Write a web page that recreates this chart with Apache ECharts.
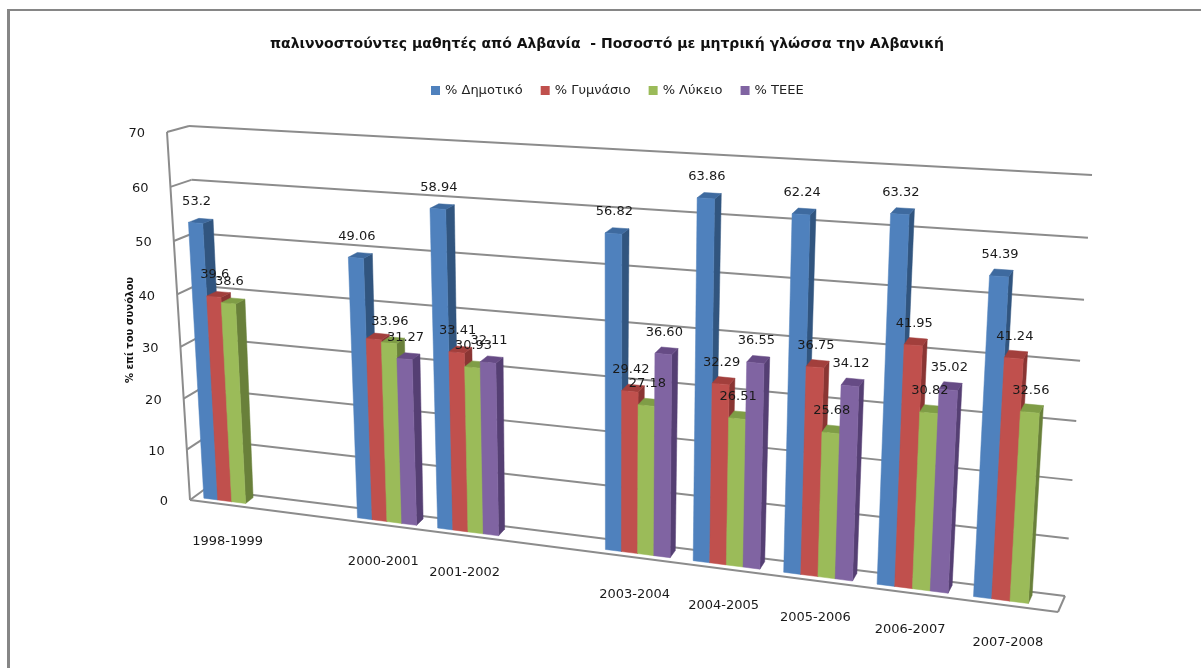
<!DOCTYPE html>
<html>
<head>
<meta charset="utf-8">
<script src="https://cdn.jsdelivr.net/npm/echarts@6/dist/echarts.min.js"></script>
<style>
  html, body { margin: 0; padding: 0; background: #fff; }
  #main { width: 1201px; height: 668px; }
</style>
</head>
<body>
<div id="main"></div>
<script>
// school years, two of them have no data and stay as empty slots
const categories = ['1998-1999', '', '2000-2001', '2001-2002', '', '2003-2004', '2004-2005', '2005-2006', '2006-2007', '2007-2008'];
const yTicks = [0, 10, 20, 30, 40, 50, 60, 70];

const dimotiko = [53.2, null, 49.06, 58.94, null, 56.82, 63.86, 62.24, 63.32, 54.39];
const gymnasio = [39.6, null, 34.4, 33.41, null, 29.42, 32.29, 36.75, 41.95, 41.24];
const lykeio = [38.6, null, 33.96, 30.93, null, 27.18, 26.51, 25.68, 30.82, 32.56];
const teee = [null, null, 31.27, 32.11, null, 36.60, 36.55, 34.12, 35.02, null];
// the 2000-2001 Gymnasio label is not visible in the picture, its bar is estimated
const unlabelled = { gymnasio: [2] };

const seriesNames = ['% Δημοτικό', '% Γυμνάσιο', '% Λύκειο', '% ΤΕΕΕ'];
const seriesValues = [dimotiko, gymnasio, lykeio, teee];
const seriesKeys = ['dimotiko', 'gymnasio', 'lykeio', 'teee'];

// face colours: front, side, top
const faceColors = [
    ['#4f81bd', '#31557f', '#3e6a9f'],
    ['#c0504d', '#8a3533', '#a23f3c'],
    ['#9bbb59', '#69803a', '#7f9d46'],
    ['#8064a2', '#553f73', '#664b85']
];

const FONT = '"DejaVu Sans", sans-serif';
const GRID_COLOR = '#8c8c8c';
const FRAME_COLOR = '#868686';
const BAR_WIDTH = 0.185;    // of one category slot
const BAR_FRONT = 0.28;     // depth of the bars in the box, 0 front, 1 back
const BAR_BACK = 0.8;
const LABEL_RISE = 21;
const LABEL_SHIFT = 1;
const CATEGORY_DROP = 37;
const TICK_GAP = 22;
const TICK_DROP = 2;

// corners of the tilted box on the page, order: bottom-left, bottom-right, top-right, top-left
const frontPlane = [[190, 500], [1058, 612], [1084, 187], [167, 132]];
const backPlane = [[205, 489], [1065, 596], [1092, 175], [189, 126]];

// unit square -> quad
function makeHomography(q) {
    const [p0, p1, p2, p3] = q;
    const dx1 = p1[0] - p2[0], dx2 = p3[0] - p2[0], sx = p0[0] - p1[0] + p2[0] - p3[0];
    const dy1 = p1[1] - p2[1], dy2 = p3[1] - p2[1], sy = p0[1] - p1[1] + p2[1] - p3[1];
    const det = dx1 * dy2 - dx2 * dy1;
    const g = (sx * dy2 - dx2 * sy) / det;
    const h = (dx1 * sy - sx * dy1) / det;
    const a = p1[0] - p0[0] + g * p1[0], b = p3[0] - p0[0] + h * p3[0], c = p0[0];
    const d = p1[1] - p0[1] + g * p1[1], e = p3[1] - p0[1] + h * p3[1], f = p0[1];
    return (u, v) => {
        const w = g * u + h * v + 1;
        return [(a * u + b * v + c) / w, (d * u + e * v + f) / w];
    };
}

const front = makeHomography(frontPlane);
const back = makeHomography(backPlane);

function project(u, v, depth) {
    const a = front(u, v), b = back(u, v);
    return [a[0] + (b[0] - a[0]) * depth, a[1] + (b[1] - a[1]) * depth];
}

// pixel from the flat hidden grid -> position in the box
function toBox(pt, cs) {
    return [(pt[0] - cs.x) / cs.width, 1 - (pt[1] - cs.y) / cs.height];
}

function poly(points, fill) {
    return { type: 'polygon', shape: { points: points }, style: { fill: fill, stroke: fill, lineWidth: 0.5 } };
}

function line(a, b) {
    return {
        type: 'line',
        shape: { x1: a[0], y1: a[1], x2: b[0], y2: b[1] },
        style: { stroke: GRID_COLOR, lineWidth: 2 }
    };
}

function text(str, x, y, align) {
    return {
        type: 'text', z2: 100,
        style: { x: x, y: y, text: str, fill: '#1a1a1a', align: align, verticalAlign: 'middle', font: 'normal 13px ' + FONT }
    };
}

function renderBar(seriesIndex, params, api) {
    const slot = api.value(0), value = api.value(1);
    const cs = params.coordSys;
    const top = toBox(api.coord([slot, value]), cs);
    const slotWidth = api.size([1, 0])[0] / cs.width;
    const uL = top[0] + (seriesIndex - 2) * BAR_WIDTH * slotWidth;
    const uR = uL + BAR_WIDTH * slotWidth;
    const v = top[1];
    const c = faceColors[seriesIndex];

    const ftl = project(uL, v, BAR_FRONT), ftr = project(uR, v, BAR_FRONT);
    const fbl = project(uL, 0, BAR_FRONT), fbr = project(uR, 0, BAR_FRONT);
    const btl = project(uL, v, BAR_BACK), btr = project(uR, v, BAR_BACK), bbr = project(uR, 0, BAR_BACK);

    const children = [
        poly([ftr, btr, bbr, fbr], c[1]),
        poly([ftl, ftr, btr, btl], c[2]),
        poly([ftl, ftr, fbr, fbl], c[0])
    ];
    const hidden = (unlabelled[seriesKeys[seriesIndex]] || []).indexOf(slot) >= 0;
    if (!hidden) {
        const label = slot === 0 ? String(value) : value.toFixed(2);
        children.push(text(label, (ftl[0] + ftr[0]) / 2 + LABEL_SHIFT, ftl[1] - LABEL_RISE, 'center'));
    }
    return { type: 'group', children: children };
}

// wall grid lines and tick labels, one item per y tick
function renderWall(params, api) {
    const value = api.value(1);
    const cs = params.coordSys;
    const v = toBox(api.coord([0, value]), cs)[1];
    const p0 = project(0, v, 0), p1 = project(0, v, 1), p2 = project(1, v, 1);
    const children = [line(p0, p1), line(p1, p2), text(String(value), p0[0] - TICK_GAP, p0[1] + TICK_DROP, 'right')];
    if (value === 0) {
        const fr = project(1, 0, 0);
        children.push(line(p0, fr), line(fr, p2), line(p0, project(0, 1, 0)));
    }
    return { type: 'group', children: children };
}

function renderCategory(params, api) {
    const slot = api.value(0);
    const cs = params.coordSys;
    const u = toBox(api.coord([slot, 0]), cs)[0];
    const p = project(u, 0, 0);
    return { type: 'group', children: [text(categories[slot], p[0], p[1] + CATEGORY_DROP, 'center')] };
}

const barSeries = seriesValues.map((values, idx) => ({
    name: seriesNames[idx],
    type: 'custom',
    itemStyle: { color: faceColors[idx][0] },
    renderItem: (params, api) => renderBar(idx, params, api),
    encode: { x: 0, y: 1 },
    data: values.map((val, i) => [i, val]).filter(d => d[1] !== null),
    z: 3
}));

const chart = echarts.init(document.getElementById('main'));

chart.setOption({
    backgroundColor: '#fff',
    animation: false,
    title: {
        text: 'παλιννοστούντες μαθητές από Αλβανία  - Ποσοστό με μητρική γλώσσα την Αλβανική',
        left: 265,
        top: 32,
        textStyle: { fontFamily: FONT, fontSize: 14, fontWeight: 'bold', color: '#111' }
    },
    legend: {
        data: seriesNames,
        left: 426,
        top: 79,
        icon: 'rect',
        itemWidth: 9,
        itemHeight: 9,
        itemGap: 18,
        textStyle: { fontFamily: FONT, fontSize: 13, color: '#222' }
    },
    graphic: [
        // chart frame: only left and top show, the rest runs off the page
        { type: 'rect', shape: { x: 7, y: 9, width: 3, height: 659 }, style: { fill: FRAME_COLOR }, silent: true },
        { type: 'rect', shape: { x: 7, y: 9, width: 1194, height: 2 }, style: { fill: FRAME_COLOR }, silent: true }
    ],
    grid: { left: 167, right: 143, top: 160, bottom: 168 },
    xAxis: {
        type: 'category',
        data: categories,
        axisLine: { show: false },
        axisTick: { show: false },
        axisLabel: { show: false }
    },
    yAxis: {
        type: 'value',
        min: 0,
        max: 70,
        interval: 10,
        name: '% επί του συνόλου',
        nameLocation: 'middle',
        nameGap: 32,
        nameTextStyle: { fontFamily: FONT, fontSize: 10, fontWeight: 'bold', color: '#111' },
        axisLine: { show: false },
        axisTick: { show: false },
        axisLabel: { show: false },
        splitLine: { show: false }
    },
    series: [
        {
            type: 'custom',
            name: 'wall',
            renderItem: renderWall,
            encode: { x: 0, y: 1 },
            data: yTicks.map(t => [0, t]),
            z: 1
        },
        {
            type: 'custom',
            name: 'categories',
            renderItem: renderCategory,
            encode: { x: 0, y: 1 },
            data: categories.map((c, i) => [i, 0]).filter(d => categories[d[0]] !== ''),
            z: 1
        }
    ].concat(barSeries)
});
</script>
</body>
</html>
